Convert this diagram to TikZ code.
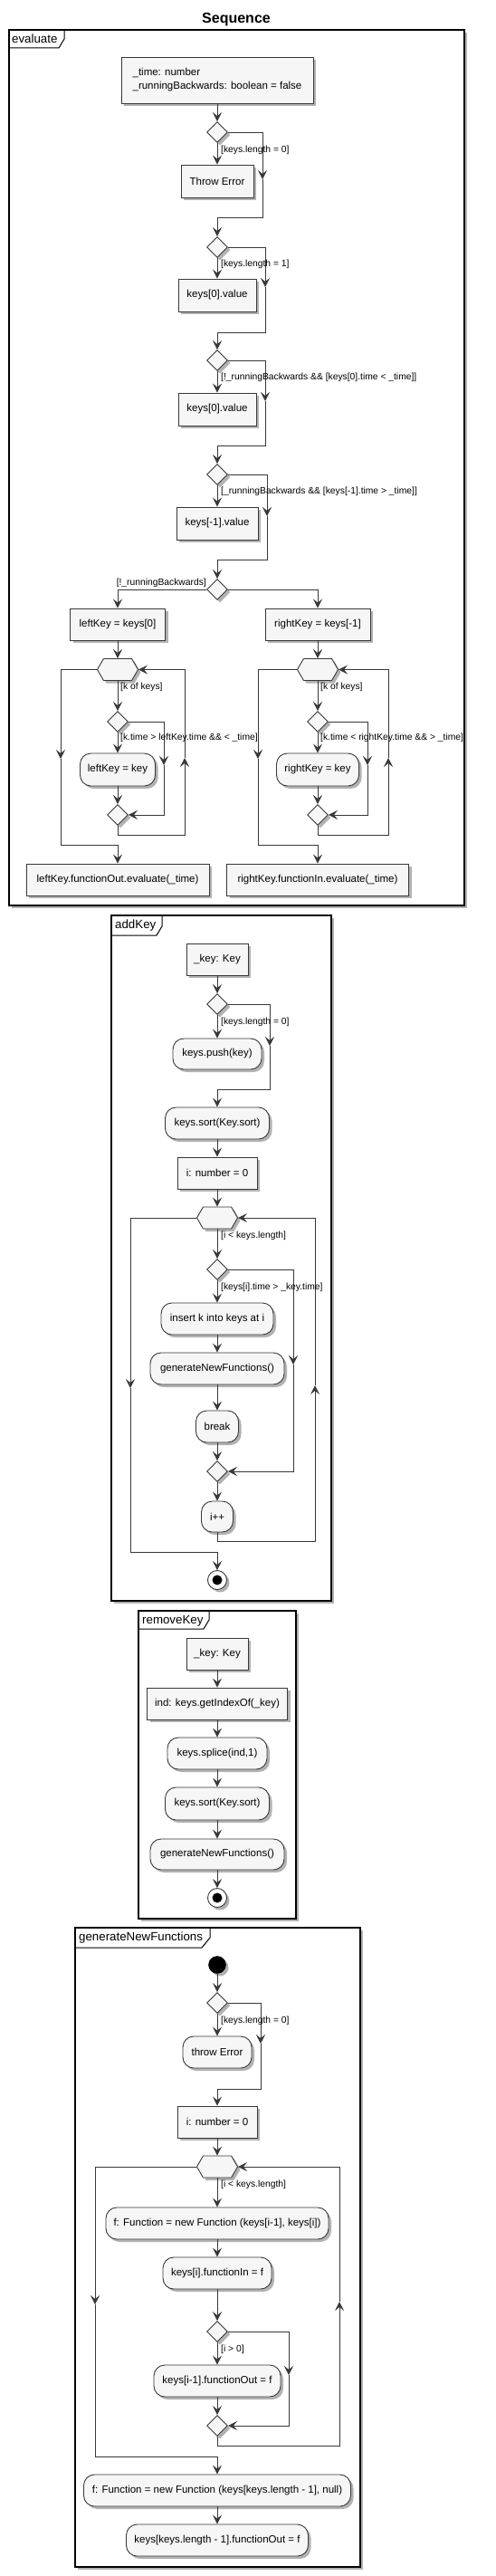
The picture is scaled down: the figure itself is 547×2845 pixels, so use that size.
\documentclass[tikz,border=0pt]{standalone}
\usepackage{fontspec}
\setmainfont{Liberation Sans}
\usetikzlibrary{arrows.meta,shapes.geometric,shapes.symbols,shadows}
\definecolor{lc}{HTML}{383838}
\definecolor{bg}{HTML}{F6F6F6}
\newcommand\boxfont{\fontsize{11.5}{15}\selectfont}
\newcommand\lblfont{\fontsize{10.3}{12}\selectfont}
\newcommand\framefont{\fontsize{13.3}{15}\selectfont}
\newcommand\titlefont{\fontsize{16}{18}\selectfont\bfseries}
\begin{document}
\begin{tikzpicture}[x=1pt,y=-1pt,
 shadowed/.style={drop shadow={shadow xshift=3pt,shadow yshift=-3pt,opacity=0.3,fill=black}},
 box/.style={rectangle,draw=lc,fill=bg,line width=0.9pt,inner sep=0pt,font=\boxfont,shadowed},
 rbox/.style={box,rounded corners=12pt},
 dia/.style={diamond,draw=lc,fill=bg,line width=0.9pt,inner sep=0pt,minimum width=23pt,minimum height=23pt,shadowed},
 hexa/.style={signal,signal to=east and west,signal pointer angle=120,draw=lc,fill=bg,line width=0.9pt,inner sep=0pt,minimum width=45pt,minimum height=24pt,shadowed},
 lbl/.style={font=\lblfont,inner sep=0pt,anchor=west},
 ln/.style={draw=lc,line width=0.9pt},
 arr/.style={ln,-{Stealth[length=10pt,width=10pt,inset=4pt]}},
 frm/.style={rectangle,draw=black,fill=white,line width=1.4pt,inner sep=0pt,shadowed},
 tabline/.style={draw=black,line width=1pt},
 ftitle/.style={font=\framefont,inner sep=0pt,anchor=west},
 stopn/.style={circle,draw=lc,fill=white,line width=0.9pt,minimum size=21pt,inner sep=0pt,shadowed,path picture={\fill[black] (path picture bounding box.center) circle (5.5pt);}},
 startn/.style={circle,fill=black,draw=black,minimum size=19pt,inner sep=0pt,shadowed}
]
\useasboundingbox (0,0) rectangle (547,2845);
\node[font=\titlefont,inner sep=0pt] (title) at (261,22) {Sequence};

%================ evaluate
\node[frm,minimum width=503pt,minimum height=967pt] (fEval) at (261.5,516.5) {};
\draw[tabline] (71,33) -- (71,43) -- (65,53) -- (10,53);
\node[ftitle] (tEval) at (13,43) {evaluate};

\node[box,minimum width=212pt,minimum height=51pt,align=left] (init) at (240,88.5) {\_time: number\\\_runningBackwards: boolean = false};
\node[dia] (d1) at (240,146) {};
\node[box,minimum width=80pt,minimum height=36pt] (thr1) at (240,200) {Throw Error};
\node[dia] (d2) at (240,273) {};
\node[box,minimum width=86pt,minimum height=36pt] (val1) at (240,326) {keys[0].value};
\node[dia] (d3) at (240,398) {};
\node[box,minimum width=86pt,minimum height=36pt] (val2) at (240,452) {keys[0].value};
\node[dia] (d4) at (240,524) {};
\node[box,minimum width=90pt,minimum height=36pt] (val3) at (240,578) {keys[-1].value};
\node[dia] (d5) at (240,651) {};
\node[box,minimum width=105pt,minimum height=35pt] (lk) at (130,689.5) {leftKey = keys[0]};
\node[box,minimum width=116pt,minimum height=35pt] (rk) at (351,689.5) {rightKey = keys[-1]};
\node[hexa] (hL) at (130,739.5) {};
\node[hexa] (hR) at (351,739.5) {};
\node[dia] (dL) at (130,797) {};
\node[dia] (dR) at (351,797) {};
\node[rbox,minimum width=83pt,minimum height=36pt] (kL) at (130,850) {leftKey = key};
\node[rbox,minimum width=91pt,minimum height=36pt] (kR) at (351,850) {rightKey = key};
\node[dia] (mL) at (130,900) {};
\node[dia] (mR) at (351,900) {};
\node[box,minimum width=202pt,minimum height=35pt] (outL) at (130,971.5) {leftKey.functionOut.evaluate(\_time)};
\node[box,minimum width=201pt,minimum height=35pt] (outR) at (351,971.5) {rightKey.functionIn.evaluate(\_time)};

\coordinate (c1) at (290,198); \coordinate (j1) at (240,240);
\coordinate (c2) at (293,317); \coordinate (j2) at (240,367);
\coordinate (c3) at (293,443); \coordinate (j3) at (240,492);
\coordinate (c4) at (295,570); \coordinate (j4) at (240,618);
\coordinate (cL1) at (181,845); \coordinate (cR1) at (406,845);
\coordinate (bL) at (204,922); \coordinate (cL2) at (204,837);
\coordinate (bR) at (429,922); \coordinate (cR2) at (429,837);
\coordinate (cL3) at (67,838); \coordinate (bL2) at (67,933);
\coordinate (cR3) at (285,838); \coordinate (bR2) at (285,933);

\draw[arr] (init) -- (d1);
\draw[arr] (d1) -- (thr1);
\draw[arr] (d1.east) -| (c1);
\draw[arr] (c1) |- (j1) -- (d2);
\draw[arr] (d2) -- (val1);
\draw[arr] (d2.east) -| (c2);
\draw[arr] (c2) |- (j2) -- (d3);
\draw[arr] (d3) -- (val2);
\draw[arr] (d3.east) -| (c3);
\draw[arr] (c3) |- (j3) -- (d4);
\draw[arr] (d4) -- (val3);
\draw[arr] (d4.east) -| (c4);
\draw[arr] (c4) |- (j4) -- (d5);
\draw[arr] (d5.west) -| (lk.north);
\draw[arr] (d5.east) -| (rk.north);
\draw[arr] (lk) -- (hL);
\draw[arr] (rk) -- (hR);
\draw[arr] (hL) -- (dL);
\draw[arr] (hR) -- (dR);
\draw[arr] (dL) -- (kL);
\draw[arr] (dR) -- (kR);
\draw[arr] (kL) -- (mL);
\draw[arr] (kR) -- (mR);
\draw[arr] (dL.east) -| (cL1);
\draw[arr] (cL1) |- (mL.east);
\draw[arr] (dR.east) -| (cR1);
\draw[arr] (cR1) |- (mR.east);
\draw[arr] (mL.south) |- (bL) -- (cL2);
\draw[arr] (cL2) |- (hL.east);
\draw[arr] (mR.south) |- (bR) -- (cR2);
\draw[arr] (cR2) |- (hR.east);
\draw[arr] (hL.west) -| (cL3);
\draw[arr] (cL3) -- (bL2) -| (outL.north);
\draw[arr] (hR.west) -| (cR3);
\draw[arr] (cR3) -- (bR2) -| (outR.north);

\node[lbl] (l1) at (244,166) {[keys.length = 0]};
\node[lbl] (l2) at (244,292) {[keys.length = 1]};
\node[lbl] (l3) at (244,417) {[!\_runningBackwards \&\& [keys[0].time < \_time]]};
\node[lbl] (l4) at (244,543) {[\_runningBackwards \&\& [keys[-1].time > \_time]]};
\node[lbl,anchor=east] (l5) at (228,644) {[!\_runningBackwards]};
\node[lbl] (l6L) at (133,759) {[k of keys]};
\node[lbl] (l6R) at (354,759) {[k of keys]};
\node[lbl] (l7L) at (133,815) {[k.time > leftKey.time \&\& < \_time]};
\node[lbl] (l7R) at (354,815) {[k.time < rightKey.time \&\& > \_time]};

%================ addKey
\node[frm,minimum width=243pt,minimum height=757pt] (fAdd) at (244.5,1389.5) {};
\draw[tabline] (179,1011) -- (179,1023) -- (173,1033) -- (123,1033);
\node[ftitle] (tAdd) at (127,1022) {addKey};

\node[box,minimum width=68pt,minimum height=35pt] (key1) at (240,1059.5) {\_key: Key};
\node[dia] (ad1) at (240,1109) {};
\node[rbox,minimum width=98pt,minimum height=34pt] (push) at (240,1164) {keys.push(key)};
\node[rbox,minimum width=115pt,minimum height=35pt] (sort1) at (240,1240.5) {keys.sort(Key.sort)};
\node[box,minimum width=88pt,minimum height=35pt] (inum1) at (240,1295.5) {i: number = 0};
\node[hexa] (ah) at (240,1345) {};
\node[dia] (ad2) at (240,1402) {};
\node[rbox,minimum width=124pt,minimum height=35pt] (ins) at (240,1456.5) {insert k into keys at i};
\node[rbox,minimum width=148pt,minimum height=35pt] (gen1) at (240,1511.5) {generateNewFunctions()};
\node[rbox,minimum width=47pt,minimum height=35pt] (brk) at (240,1575.5) {break};
\node[dia] (am) at (240,1625) {};
\node[rbox,minimum width=35pt,minimum height=34pt] (ipp) at (240,1675) {i++};
\node[stopn] (stop1) at (240,1745) {};

\coordinate (ca1) at (298,1155); \coordinate (ja1) at (240,1203);
\coordinate (ca2) at (324,1507);
\coordinate (bA1) at (348,1702); \coordinate (cA3) at (348,1530);
\coordinate (cA4) at (144,1533); \coordinate (bA2) at (144,1714);

\draw[arr] (key1) -- (ad1);
\draw[arr] (ad1) -- (push);
\draw[arr] (ad1.east) -| (ca1);
\draw[arr] (ca1) |- (ja1) -- (sort1);
\draw[arr] (sort1) -- (inum1);
\draw[arr] (inum1) -- (ah);
\draw[arr] (ah) -- (ad2);
\draw[arr] (ad2) -- (ins);
\draw[arr] (ins) -- (gen1);
\draw[arr] (gen1) -- (brk);
\draw[arr] (brk) -- (am);
\draw[arr] (ad2.east) -| (ca2);
\draw[arr] (ca2) |- (am.east);
\draw[arr] (am) -- (ipp);
\draw[arr] (ipp.south) |- (bA1) -- (cA3);
\draw[arr] (cA3) |- (ah.east);
\draw[arr] (ah.west) -| (cA4);
\draw[arr] (cA4) -- (bA2) -| (stop1.north);

\node[lbl] (la1) at (244,1129) {[keys.length = 0]};
\node[lbl] (la2) at (244,1365) {[i < keys.length]};
\node[lbl] (la3) at (244,1422) {[keys[i].time > \_key.time]};

%================ removeKey
\node[frm,minimum width=174pt,minimum height=340pt] (fRem) at (240,1949) {};
\draw[tabline] (231,1779) -- (231,1789) -- (225,1799) -- (153,1799);
\node[ftitle] (tRem) at (157,1790) {removeKey};

\node[box,minimum width=68pt,minimum height=35pt] (key2) at (240,1826.5) {\_key: Key};
\node[box,minimum width=155pt,minimum height=35pt] (ind) at (240,1881.5) {ind: keys.getIndexOf(\_key)};
\node[rbox,minimum width=110pt,minimum height=35pt] (spl) at (240,1936.5) {keys.splice(ind,1)};
\node[rbox,minimum width=115pt,minimum height=36pt] (sort2) at (240,1992) {keys.sort(Key.sort)};
\node[rbox,minimum width=148pt,minimum height=34pt] (gen2) at (240,2048) {generateNewFunctions()};
\node[stopn] (stop2) at (240,2096) {};
\draw[arr] (key2) -- (ind);
\draw[arr] (ind) -- (spl);
\draw[arr] (spl) -- (sort2);
\draw[arr] (sort2) -- (gen2);
\draw[arr] (gen2) -- (stop2);

%================ generateNewFunctions
\node[frm,minimum width=315pt,minimum height=706pt] (fGen) at (240.5,2482) {};
\draw[tabline] (232,2129) -- (232,2140) -- (223,2151) -- (83,2151);
\node[ftitle] (tGen) at (87,2140) {generateNewFunctions};

\node[startn] (start) at (240,2170) {};
\node[dia] (gd1) at (240,2212) {};
\node[rbox,minimum width=76pt,minimum height=35pt] (thr2) at (240,2266.5) {throw Error};
\node[box,minimum width=88pt,minimum height=35pt] (inum2) at (240,2343.5) {i: number = 0};
\node[hexa] (gh) at (240,2393) {};
\node[rbox,minimum width=246pt,minimum height=35pt] (fn1) at (240,2455.5) {f: Function = new Function (keys[i-1], keys[i])};
\node[rbox,minimum width=120pt,minimum height=35pt] (fin) at (240,2510.5) {keys[i].functionIn = f};
\node[dia] (gd2) at (240,2575) {};
\node[rbox,minimum width=140pt,minimum height=35pt] (fout) at (240,2629.5) {keys[i-1].functionOut = f};
\node[dia] (gm) at (240,2679) {};
\node[rbox,minimum width=295pt,minimum height=35pt] (fn2) at (240,2750.5) {f: Function = new Function (keys[keys.length - 1], null)};
\node[rbox,minimum width=201pt,minimum height=35pt] (fend) at (240,2805.5) {keys[keys.length - 1].functionOut = f};

\coordinate (cg1) at (288,2257); \coordinate (jg1) at (240,2307);
\coordinate (cg2) at (319,2623);
\coordinate (bG1) at (375,2701); \coordinate (cG3) at (375,2542);
\coordinate (cG4) at (105,2545); \coordinate (bG2) at (105,2713);

\draw[arr] (start) -- (gd1);
\draw[arr] (gd1) -- (thr2);
\draw[arr] (gd1.east) -| (cg1);
\draw[arr] (cg1) |- (jg1) -- (inum2);
\draw[arr] (inum2) -- (gh);
\draw[arr] (gh) -- (fn1);
\draw[arr] (fn1) -- (fin);
\draw[arr] (fin) -- (gd2);
\draw[arr] (gd2) -- (fout);
\draw[arr] (gd2.east) -| (cg2);
\draw[arr] (cg2) |- (gm.east);
\draw[arr] (fout) -- (gm);
\draw[arr] (gm.south) |- (bG1) -- (cG3);
\draw[arr] (cG3) |- (gh.east);
\draw[arr] (gh.west) -| (cG4);
\draw[arr] (cG4) -- (bG2) -| (fn2.north);
\draw[arr] (fn2) -- (fend);

\node[lbl] (lg1) at (244,2232) {[keys.length = 0]};
\node[lbl] (lg2) at (244,2413) {[i < keys.length]};
\node[lbl] (lg3) at (244,2595) {[i > 0]};
\end{tikzpicture}
\end{document}
